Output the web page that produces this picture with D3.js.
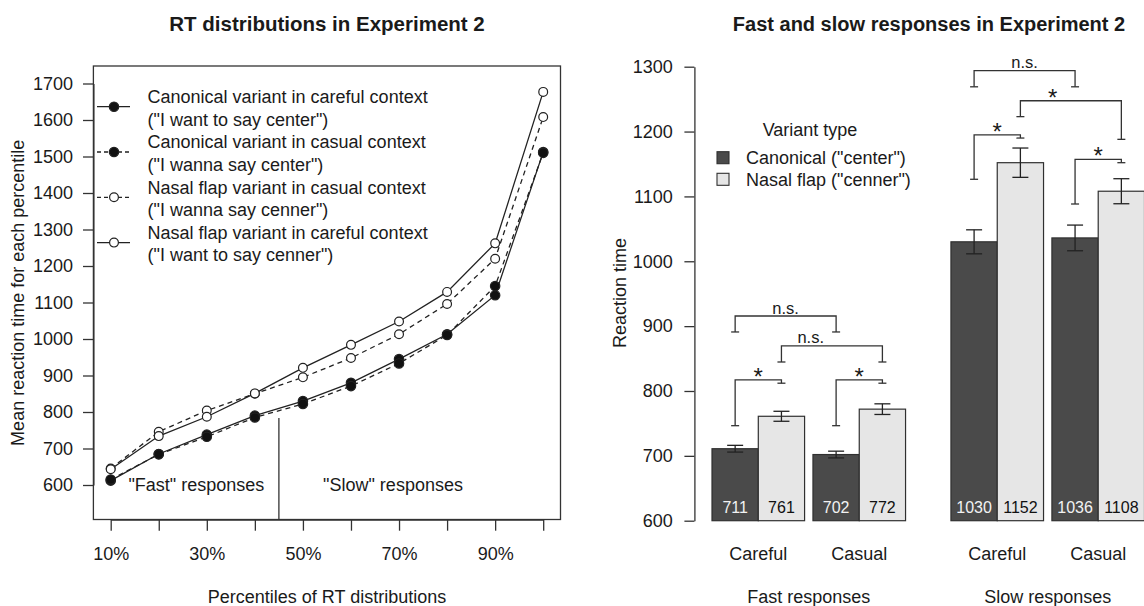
<!DOCTYPE html>
<html><head><meta charset="utf-8">
<script src="https://cdn.jsdelivr.net/npm/d3@7"></script>
<style>
body{margin:0;background:#fff}
svg{display:block}
text{font-family:"Liberation Sans",Arial,Helvetica,sans-serif;fill:#1a1a1a}
</style>
</head><body>
<svg id="c" width="1144" height="606"></svg>
<script>
// ---------- Left panel data ----------
const percentiles = [10,20,30,40,50,60,70,80,90,100];
const canonicalCareful = [612,685,738,790,830,880,945,1013,1120,1512];
const canonicalCasual  = [615,684,732,785,822,871,933,1011,1145,1510];
const nasalCasual      = [645,746,804,850,895,948,1013,1096,1220,1608];
const nasalCareful     = [643,734,787,851,921,984,1048,1129,1262,1677];
const leftYTicks = [600,700,800,900,1000,1100,1200,1300,1400,1500,1600,1700];
const percentileLabels = ["10%","","30%","","50%","","70%","","90%",""];
const seriesNames = ["canonicalCareful","canonicalCasual","nasalCasual","nasalCareful"];
const legendLine1 = ["Canonical variant in careful context","Canonical variant in casual context","Nasal flap variant in casual context","Nasal flap variant in careful context"];
const legendLine2 = ["(\"I want to say center\")","(\"I wanna say center\")","(\"I wanna say cenner\")","(\"I want to say cenner\")"];
const seriesDashed = [false,true,true,false];
const seriesFilled = [true,true,false,false];

// ---------- Right panel data ----------
const responseTypes = ["Fast","Slow"];
const responseLabels = ["Fast responses","Slow responses"];
const contexts = ["Careful","Casual"];
const variants = ["Canonical","Nasal"];
const variantLabels = ["Canonical (\"center\")","Nasal flap (\"cenner\")"];
// order: Fast-Careful, Fast-Casual, Slow-Careful, Slow-Casual
const canonicalMeans = [711,702,1030,1036];
const nasalMeans     = [761,772,1152,1108];
const canonicalSE    = [5.2,5.2,18.5,19.8];
const nasalSE        = [7.7,8.2,22.6,19.3];
const rightYTicks = [600,700,800,900,1000,1100,1200,1300];
// significance brackets
const bracketFrom   = [["Fast","Careful","Canonical"],["Fast","Careful","Nasal"],["Fast","Careful","Canonical"],["Fast","Casual","Canonical"],["Slow","Careful","Canonical"],["Slow","Careful","Nasal"],["Slow","Careful","Canonical"],["Slow","Casual","Canonical"]];
const bracketTo     = [["Fast","Casual","Canonical"],["Fast","Casual","Nasal"],["Fast","Careful","Nasal"],["Fast","Casual","Nasal"],["Slow","Casual","Canonical"],["Slow","Casual","Nasal"],["Slow","Careful","Nasal"],["Slow","Casual","Nasal"]];
const bracketTop    = [915.6,869.4,817,817,1293.8,1247.5,1195,1157];
const bracketEndFrom= [891,844.7,746.5,746.5,1269,1223,1126.4,1088.3];
const bracketEndTo  = [891,844.7,812,812,1269,1188,1190,1152];
const bracketLabels = ["n.s.","n.s.","*","*","n.s.","*","*","*"];
const bracketLabelAt= [0.5,0.29,0.5,0.5,0.5,0.32,0.5,0.5];

const svg = d3.select("#c");
const ink = "#222";

// ================= LEFT PANEL =================
const seriesData = {canonicalCareful, canonicalCasual, nasalCasual, nasalCareful};
const xL = d3.scaleLinear().domain([10,100]).range([110.7,543.2]);
const yL = d3.scaleLinear().domain([600,1700]).range([485,83.5]);
const boxL = {x0:93.4, x1:560.5, y0:66, y1:519.5};

svg.append("text").attr("x",327).attr("y",24).attr("dy","0.35em")
  .attr("text-anchor","middle").style("font-size","20.5px").style("font-weight","bold")
  .text("RT distributions in Experiment 2");

svg.append("rect").attr("x",boxL.x0).attr("y",boxL.y0)
  .attr("width",boxL.x1-boxL.x0).attr("height",boxL.y1-boxL.y0)
  .attr("fill","none").attr("stroke","#333").attr("stroke-width",1.3);

const yAxL = svg.append("g").attr("transform",`translate(${boxL.x0},0)`)
  .call(d3.axisLeft(yL).tickValues(leftYTicks).tickSize(10.4).tickPadding(10).tickSizeOuter(0).tickFormat(d3.format("d")));
const xAxL = svg.append("g").attr("transform",`translate(0,${boxL.y1})`)
  .call(d3.axisBottom(xL).tickValues(percentiles).tickSize(11.2).tickPadding(17).tickSizeOuter(0)
    .tickFormat((d,i)=>percentileLabels[i]));
[yAxL,xAxL].forEach(g=>{
  g.selectAll("path,line").attr("stroke","#333").attr("stroke-width",1.3);
  g.selectAll("text").style("font-size","18px").style("font-family","'Liberation Sans',Arial,sans-serif").attr("fill","#1a1a1a");
});

svg.append("text").attr("transform","translate(18,292.8) rotate(-90)").attr("dy","0.35em")
  .attr("text-anchor","middle").style("font-size","18px").text("Mean reaction time for each percentile");
svg.append("text").attr("x",327).attr("y",597).attr("dy","0.35em")
  .attr("text-anchor","middle").style("font-size","18px").text("Percentiles of RT distributions");

// divider between fast and slow
svg.append("line").attr("x1",xL(45)).attr("x2",xL(45)).attr("y1",yL(783.6)).attr("y2",boxL.y1)
  .attr("stroke","#333").attr("stroke-width",1.3);
svg.append("text").attr("x",196.3).attr("y",485).attr("dy","0.35em").attr("text-anchor","middle")
  .style("font-size","18px").text("\"Fast\" responses");
svg.append("text").attr("x",393).attr("y",485).attr("dy","0.35em").attr("text-anchor","middle")
  .style("font-size","18px").text("\"Slow\" responses");

const lineGen = d3.line().x(d=>xL(d[0])).y(d=>yL(d[1]));
seriesNames.forEach((name,si)=>{
  const pts = percentiles.map((p,i)=>[p, seriesData[name][i]]);
  svg.append("path").datum(pts).attr("d",lineGen).attr("fill","none")
    .attr("stroke",ink).attr("stroke-width",1.3)
    .attr("stroke-dasharray",seriesDashed[si]?"5,4":null);
});
seriesNames.forEach((name,si)=>{
  const pts = percentiles.map((p,i)=>[p, seriesData[name][i]]);
  svg.append("g").selectAll("circle").data(pts).join("circle")
    .attr("cx",d=>xL(d[0])).attr("cy",d=>yL(d[1]))
    .attr("r",seriesFilled[si]?4.7:4.4)
    .attr("fill",seriesFilled[si]?"#111":"#fff")
    .attr("stroke",ink).attr("stroke-width",1.2);
});

// legend
seriesNames.forEach((name,si)=>{
  const ly = 106.7 + si*45.3;
  svg.append("line").attr("x1",97).attr("x2",130).attr("y1",ly).attr("y2",ly)
    .attr("stroke",ink).attr("stroke-width",1.3).attr("stroke-dasharray",seriesDashed[si]?"4,3":null);
  svg.append("circle").attr("cx",114).attr("cy",ly).attr("r",seriesFilled[si]?4.7:4.4)
    .attr("fill",seriesFilled[si]?"#111":"#fff").attr("stroke",ink).attr("stroke-width",1.2);
  svg.append("text").attr("x",147.5).attr("y",ly-10).attr("dy","0.35em").style("font-size","18px").text(legendLine1[si]);
  svg.append("text").attr("x",147.5).attr("y",ly+12.5).attr("dy","0.35em").style("font-size","18px").text(legendLine2[si]);
});

// ================= RIGHT PANEL =================
const yR = d3.scaleLinear().domain([600,1300]).range([520.7,66.7]);
const xOuter = d3.scaleBand().domain(responseTypes).range([712,1144.5]).paddingInner(0.19);
const xCtx = d3.scaleBand().domain(contexts).range([0,xOuter.bandwidth()]).paddingInner(0.083);
const xVar = d3.scaleBand().domain(variants).range([0,xCtx.bandwidth()]);
const barX = (r,c,v)=> xOuter(r)+xCtx(c)+xVar(v);
const barC = (r,c,v)=> barX(r,c,v)+xVar.bandwidth()/2;
const axisX = 694.4;

svg.append("text").attr("x",929).attr("y",24).attr("dy","0.35em")
  .attr("text-anchor","middle").style("font-size","20px").style("font-weight","bold")
  .text("Fast and slow responses in Experiment 2");

const yAxR = svg.append("g").attr("transform",`translate(${axisX},0)`)
  .call(d3.axisLeft(yR).tickValues(rightYTicks).tickSize(10).tickPadding(11.6).tickSizeOuter(0).tickFormat(d3.format("d")));
yAxR.selectAll("path,line").attr("stroke","#333").attr("stroke-width",1.3);
yAxR.selectAll("text").style("font-size","18px").style("font-family","'Liberation Sans',Arial,sans-serif").attr("fill","#1a1a1a");

svg.append("text").attr("transform","translate(619.6,293) rotate(-90)").attr("dy","0.35em")
  .attr("text-anchor","middle").style("font-size","18px").text("Reaction time");

// bars
const bars = [];
responseTypes.forEach((r,ri)=>contexts.forEach((c,ci)=>{
  const k = ri*2+ci;
  bars.push({r,c,v:"Canonical",mean:canonicalMeans[k],se:canonicalSE[k]});
  bars.push({r,c,v:"Nasal",mean:nasalMeans[k],se:nasalSE[k]});
}));
const gb = svg.append("g");
gb.selectAll("rect").data(bars).join("rect")
  .attr("x",d=>barX(d.r,d.c,d.v)).attr("width",xVar.bandwidth())
  .attr("y",d=>yR(d.mean)).attr("height",d=>yR(600)-yR(d.mean))
  .attr("fill",d=>d.v==="Canonical"?"#4a4a4a":"#e6e6e6")
  .attr("stroke","#303030").attr("stroke-width",1.2);
gb.selectAll("text").data(bars).join("text")
  .attr("x",d=>barC(d.r,d.c,d.v)).attr("y",507.3).attr("dy","0.35em").attr("text-anchor","middle")
  .style("font-size","16px").style("fill",d=>d.v==="Canonical"?"#f2f2f2":"#111")
  .text(d=>d.mean);
// error bars
const ge = svg.append("g").attr("stroke","#222").attr("stroke-width",1.3);
bars.forEach(d=>{
  const cx = barC(d.r,d.c,d.v);
  ge.append("line").attr("x1",cx).attr("x2",cx).attr("y1",yR(d.mean-d.se)).attr("y2",yR(d.mean+d.se));
  [d.mean-d.se,d.mean+d.se].forEach(v=>ge.append("line").attr("x1",cx-8).attr("x2",cx+8).attr("y1",yR(v)).attr("y2",yR(v)));
});

// brackets
const gk = svg.append("g");
bracketLabels.forEach((lab,i)=>{
  const xa = barC(...bracketFrom[i]), xb = barC(...bracketTo[i]);
  const yt = yR(bracketTop[i]), ya = yR(bracketEndFrom[i]), yb = yR(bracketEndTo[i]);
  gk.append("path").attr("d",`M${xa},${ya}V${yt}H${xb}V${yb}`)
    .attr("fill","none").attr("stroke","#333").attr("stroke-width",1.3);
  [[xa,ya],[xb,yb]].forEach(([x,y])=>gk.append("line").attr("x1",x-4).attr("x2",x+4).attr("y1",y).attr("y2",y)
    .attr("stroke","#333").attr("stroke-width",1.3));
  const t = gk.append("text").attr("x",xa+(xb-xa)*bracketLabelAt[i]).attr("text-anchor","middle").text(lab);
  if(lab==="*") t.attr("y",yt+5).style("font-size","24px");
  else t.attr("y",yt-2.5).style("font-size","16.5px");
});

// legend
svg.append("text").attr("x",810).attr("y",130).attr("dy","0.35em").attr("text-anchor","middle")
  .style("font-size","18px").text("Variant type");
variantLabels.forEach((lab,i)=>{
  const ly = 157.7 + i*21.6;
  svg.append("rect").attr("x",717).attr("y",ly-6).attr("width",12).attr("height",12)
    .attr("fill",i===0?"#4a4a4a":"#e6e6e6").attr("stroke","#303030").attr("stroke-width",1.1);
  svg.append("text").attr("x",746).attr("y",ly).attr("dy","0.35em").style("font-size","18px").text(lab);
});

// group labels
responseTypes.forEach((r,ri)=>{
  contexts.forEach(c=>{
    svg.append("text").attr("x",xOuter(r)+xCtx(c)+xCtx.bandwidth()/2).attr("y",553.3).attr("dy","0.35em")
      .attr("text-anchor","middle").style("font-size","18px").text(c);
  });
  svg.append("text").attr("x",xOuter(r)+xOuter.bandwidth()/2).attr("y",596.7).attr("dy","0.35em")
    .attr("text-anchor","middle").style("font-size","18px").text(responseLabels[ri]);
});
</script>
</body></html>
